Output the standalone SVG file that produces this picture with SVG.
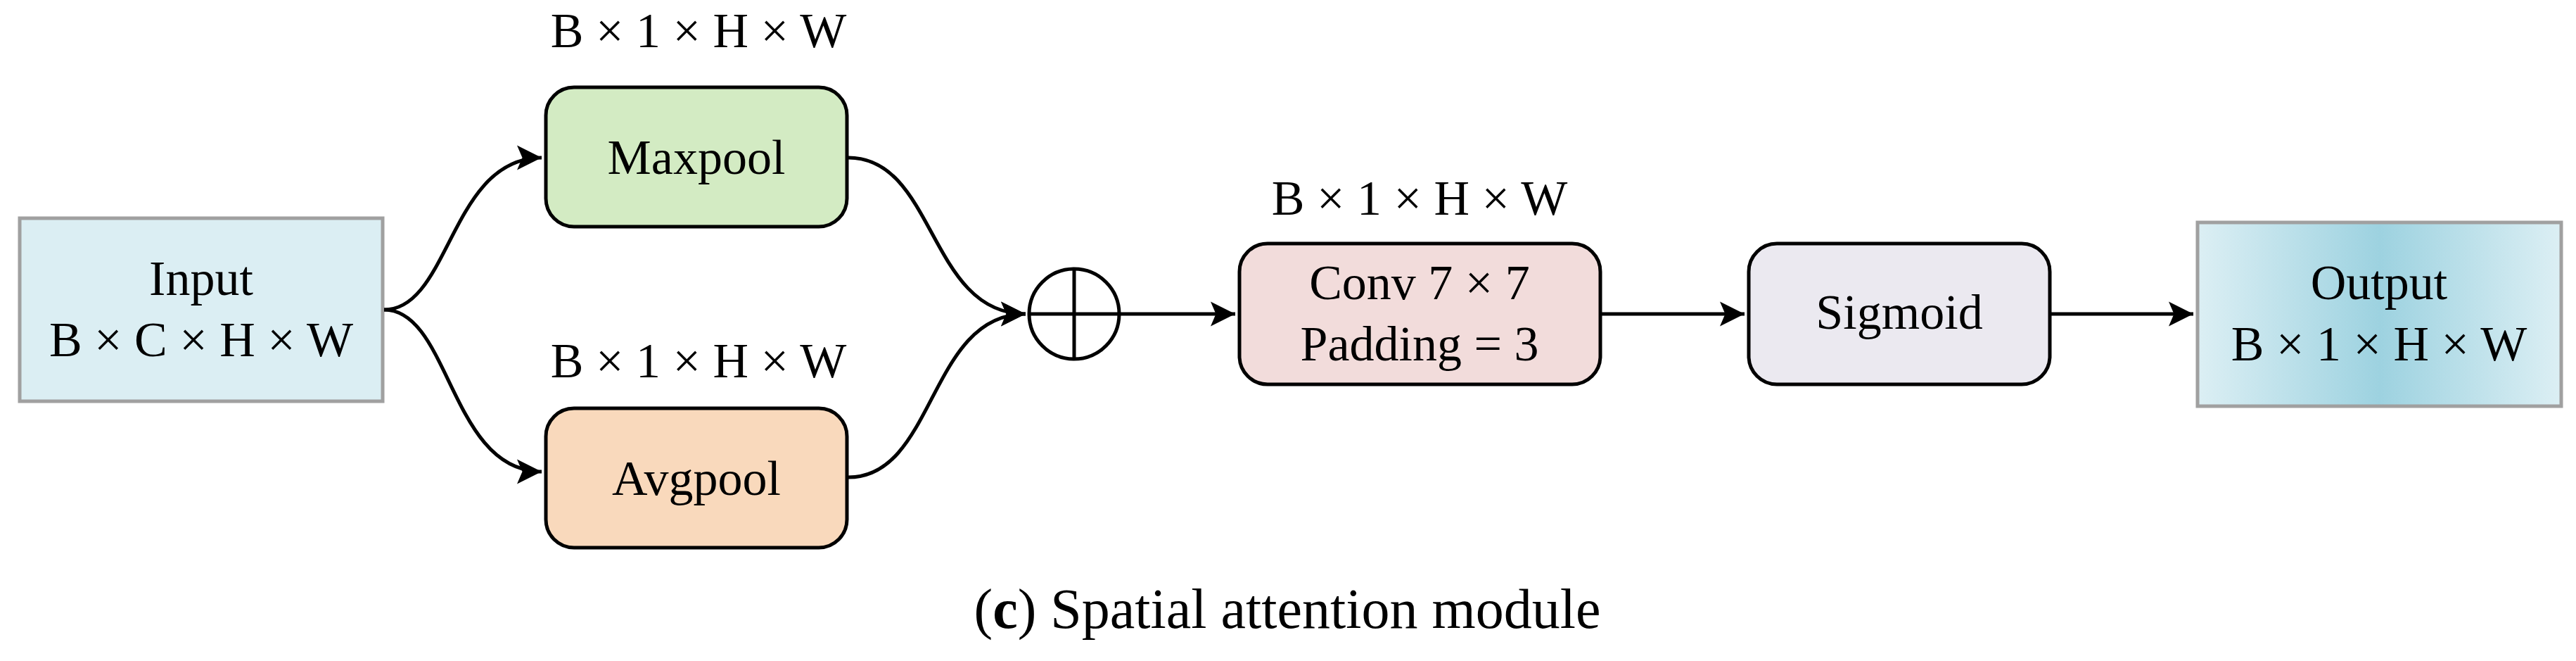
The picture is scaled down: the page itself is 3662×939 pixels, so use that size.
<svg xmlns="http://www.w3.org/2000/svg" width="3662" height="939" viewBox="0 0 3662 939">
<style>
text{font-family:"Liberation Serif","Times New Roman",serif;font-size:70px;fill:#000;text-anchor:middle}
.n{stroke:#000;stroke-width:5}
.b{stroke:#a0a0a0;stroke-width:5}
.c{fill:none;stroke:#000;stroke-width:5}
</style>
<defs>
<marker id="a" markerWidth="8" markerHeight="8" refX="7" refY="4" orient="auto" markerUnits="strokeWidth"><path d="M0,0.5 L7,4 L0,7.5 L1.5,4 Z" fill="#000"/></marker>
<linearGradient id="g" x1="0" x2="1" y1="0" y2="0"><stop offset="0" stop-color="#dceff4"/><stop offset="0.5" stop-color="#9dd2e0"/><stop offset="1" stop-color="#dceff4"/></linearGradient>
</defs>
<g id="input"><rect class="b" x="28" y="310" width="516" height="260" fill="#dbeef3"/><text x="286" y="419">Input</text><text x="286" y="506">B × C × H × W</text></g>
<g id="maxpool"><text x="993" y="67">B × 1 × H × W</text><rect class="n" x="776" y="124" width="428" height="198" rx="40" fill="#d3ebc3"/><text x="990" y="247">Maxpool</text></g>
<g id="avgpool"><text x="993" y="536">B × 1 × H × W</text><rect class="n" x="776" y="580" width="428" height="198" rx="40" fill="#f9d9bc"/><text x="990" y="703">Avgpool</text></g>
<g id="sum"><circle class="n" cx="1527" cy="446" r="64" fill="#fff"/><path class="c" d="M1463,446H1591M1527,382V510"/></g>
<g id="conv"><text x="2018" y="305">B × 1 × H × W</text><rect class="n" x="1762" y="346" width="513" height="200" rx="40" fill="#f2dcdb"/><text x="2018" y="425">Conv 7 × 7</text><text x="2018" y="512">Padding = 3</text></g>
<g id="sigmoid"><rect class="n" x="2486" y="346" width="428" height="200" rx="40" fill="#ebe9f0"/><text x="2700" y="467">Sigmoid</text></g>
<g id="output"><rect class="b" x="3124" y="316" width="517" height="261" fill="url(#g)"/><text x="3382" y="425">Output</text><text x="3382" y="512">B × 1 × H × W</text></g>
<g id="connectors">
<path class="c" marker-end="url(#a)" d="M546,440 C640,440 640,224 770,224"/>
<path class="c" marker-end="url(#a)" d="M546,440 C640,440 640,670 770,670"/>
<path class="c" marker-end="url(#a)" d="M1206,224 C1330,224 1320,446 1458,446"/>
<path class="c" marker-end="url(#a)" d="M1206,678 C1330,678 1320,446 1458,446"/>
<path class="c" marker-end="url(#a)" d="M1591,446H1756"/>
<path class="c" marker-end="url(#a)" d="M2277,446H2480"/>
<path class="c" marker-end="url(#a)" d="M2916,446H3118"/>
</g>
<text x="1830" y="892" style="font-size:80px">(<tspan font-weight="bold">c</tspan>) Spatial attention module</text>
</svg>
